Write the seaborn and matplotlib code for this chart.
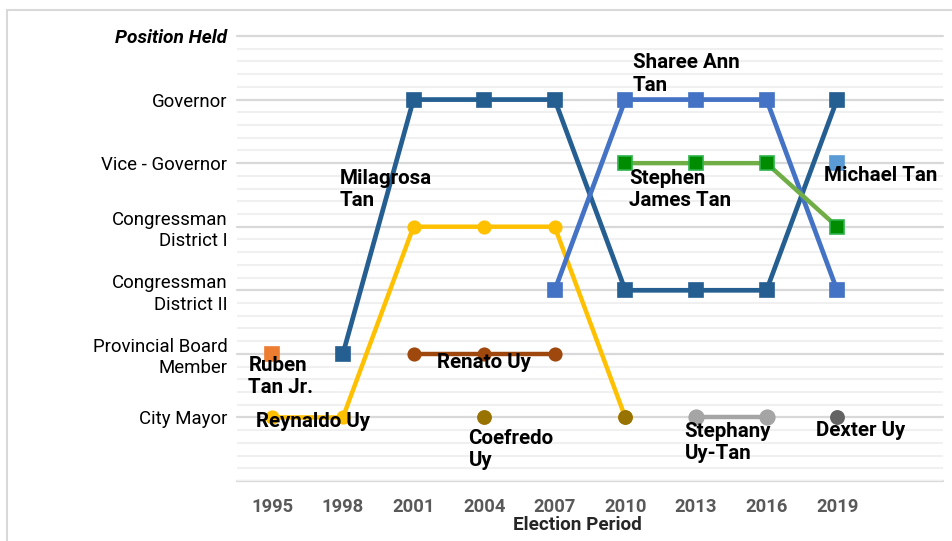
import matplotlib
matplotlib.use("Agg")
import matplotlib.pyplot as plt
import pandas as pd
import seaborn as sns
from matplotlib.patches import Rectangle

# --- data ---
years = ["1995", "1998", "2001", "2004", "2007", "2010", "2013", "2016", "2019"]
# position codes: 1 = City Mayor ... 6 = Governor, 7 = axis header
position_labels = ["City Mayor", "Provincial Board\nMember", "Congressman\nDistrict II",
                   "Congressman\nDistrict I", "Vice - Governor", "Governor", "Position Held"]

N = None
milagrosa_tan = [N, 2, 6, 6, 6, 3, 3, 3, 6]
sharee_ann_tan = [N, N, N, N, 3, 6, 6, 6, 3]
stephen_james_tan = [N, N, N, N, N, 5, 5, 5, 4]
michael_tan = [N, N, N, N, N, N, N, N, 5]
ruben_tan_jr = [2, N, N, N, N, N, N, N, N]
reynaldo_uy = [1, 1, 4, 4, 4, 1, N, N, N]
renato_uy = [N, N, 2, 2, 2, N, N, N, N]
coefredo_uy = [N, N, N, 1, N, 1, N, N, N]
stephany_uy_tan = [N, N, N, N, N, N, 1, 1, N]
dexter_uy = [N, N, N, N, N, N, N, N, 1]

# name, values, line colour, marker, face, edge, marker size, line width
series = [
    ("Reynaldo Uy", reynaldo_uy, "#FFC000", "o", "#FFC000", "#FFC000", 9, 3.2),
    ("Renato Uy", renato_uy, "#9E480E", "o", "#9E480E", "#9E480E", 9, 3.2),
    ("Coefredo\nUy", coefredo_uy, "#997300", "o", "#997300", "#997300", 9.5, 3.2),
    ("Stephany\nUy-Tan", stephany_uy_tan, "#A5A5A5", "o", "#A5A5A5", "#A5A5A5", 10.5, 3.2),
    ("Dexter Uy", dexter_uy, "#636363", "o", "#636363", "#636363", 9.5, 3.2),
    ("Ruben\nTan Jr.", ruben_tan_jr, "#ED7D31", "s", "#ED7D31", "#ED7D31", 10.5, 3.2),
    ("Milagrosa\nTan", milagrosa_tan, "#255E91", "s", "#255E91", "#255E91", 10.5, 3.4),
    ("Sharee Ann\nTan", sharee_ann_tan, "#4472C4", "s", "#4472C4", "#4472C4", 10.5, 3.4),
    ("Stephen\nJames Tan", stephen_james_tan, "#70AD47", "s", "#008C00", "#2DB34A", 10, 3.2),
    ("Michael Tan", michael_tan, "#5B9BD5", "s", "#5B9BD5", "#5B9BD5", 10.5, 3.2),
]

# label anchor (x index, y position) for each name
label_pos = {
    "Milagrosa\nTan": (0.95, 4.58),
    "Sharee Ann\nTan": (5.11, 6.40),
    "Stephen\nJames Tan": (5.05, 4.58),
    "Michael Tan": (7.82, 4.80),
    "Ruben\nTan Jr.": (-0.34, 1.64),
    "Reynaldo Uy": (-0.23, 0.94),
    "Renato Uy": (2.33, 1.87),
    "Coefredo\nUy": (2.78, 0.50),
    "Stephany\nUy-Tan": (5.84, 0.61),
    "Dexter Uy": (7.70, 0.80),
}


def runs(values):
    """Split a series into contiguous (non-missing) runs."""
    out, cur = [], []
    for i, v in enumerate(values):
        if v is None:
            if cur:
                out.append(cur)
                cur = []
        else:
            cur.append((i, v))
    if cur:
        out.append(cur)
    return out


sns.set_theme(style="white")
plt.rcParams["font.family"] = ["Roboto", "DejaVu Sans"]

fig = plt.figure(figsize=(9.52, 5.41), dpi=100)
ax = fig.add_axes([237 / 952, 1 - 481 / 541, (943 - 237) / 952, 445 / 541])

# gridlines
ax.set_ylim(0, 7)
ax.set_xlim(-0.5, 9.5)
ax.set_yticks(range(1, 8))
ax.set_yticks([i / 5 for i in range(36)], minor=True)
ax.grid(False)
ax.grid(which="minor", axis="y", color="#F0F0F0", lw=1.5)
ax.grid(which="major", axis="y", color="#D9D9D9", lw=1.6)
ax.axhline(0, color="#D9D9D9", lw=1.6, clip_on=False, zorder=0.5)
for gl in ax.get_ygridlines():
    gl.set_clip_on(False)
ax.set_axisbelow(True)

for name, vals, color, marker, face, edge, ms, lw in series:
    for run in runs(vals):
        df = pd.DataFrame(run, columns=["idx", "pos"])
        sns.lineplot(data=df, x="idx", y="pos", ax=ax, color=color, lw=lw,
                     marker=marker, markersize=ms, markerfacecolor=face,
                     markeredgecolor=edge, markeredgewidth=1.2,
                     estimator=None, sort=False, legend=False)
    lx, ly = label_pos[name]
    ax.text(lx, ly, name, fontsize=14.8, fontweight="bold", color="black",
            ha="left", va="center", linespacing=1.22, zorder=5)

sns.despine(ax=ax, left=True, bottom=True)

ax.set_xticks(range(len(years)))
ax.set_xticklabels(years, fontsize=13.2, fontweight="bold", color="#595959")
ax.set_yticks(range(1, 8))
ax.set_yticklabels(position_labels, fontsize=13.4, color="black", linespacing=1.25)
yl = ax.get_yticklabels()[-1]
yl.set_fontweight("bold")
yl.set_fontstyle("italic")
yl.set_fontsize(13.8)
ax.tick_params(axis="x", length=0, pad=12)
ax.tick_params(axis="y", which="both", length=0, pad=7)
ax.set_xlabel("")
ax.set_ylabel("")

fig.text(577 / 952, 1 - 525 / 541, "Election Period", fontsize=13.6,
         fontweight="bold", ha="center", va="center")

# outer chart border
fig.patches.append(Rectangle((7 / 952, -0.2), 1.2, 0.2 + (1 - 10 / 541),
                             transform=fig.transFigure, fill=False,
                             edgecolor="#D9D9D9", lw=1.5))

fig.savefig("out.png", dpi=100)
